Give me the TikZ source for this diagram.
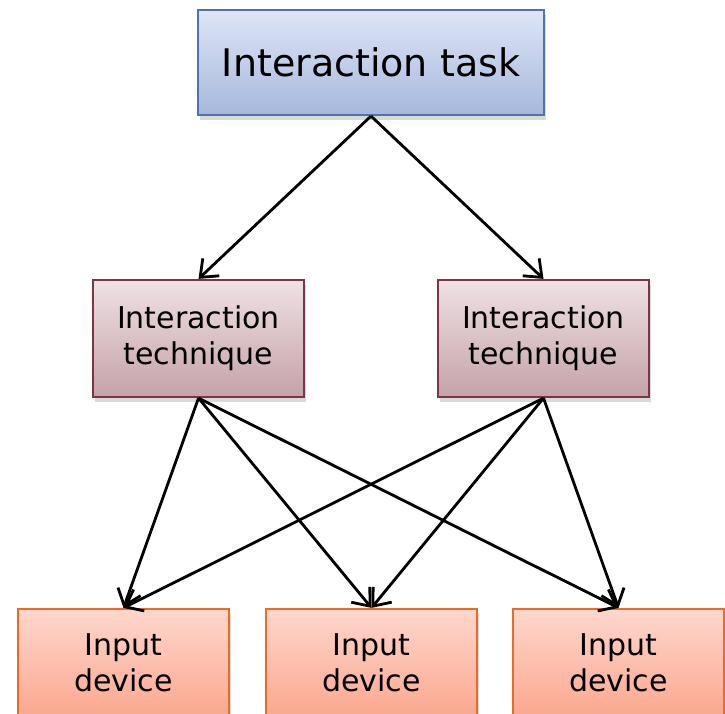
\documentclass[tikz,border=0pt]{standalone}
\usepackage{fontspec}
\setmainfont{DejaVu Sans}
\usetikzlibrary{arrows.meta,shadows}
\definecolor{taskTop}{HTML}{DEE6F6}
\definecolor{taskBot}{HTML}{A6B8DC}
\definecolor{taskLine}{HTML}{4F74AC}
\definecolor{techTop}{HTML}{EFE1E4}
\definecolor{techBot}{HTML}{C4A2A8}
\definecolor{techLine}{HTML}{7C3446}
\definecolor{devTop}{HTML}{FED7CD}
\definecolor{devBot}{HTML}{FBA78E}
\definecolor{devLine}{HTML}{EB6A25}
\tikzset{
  box/.style={rectangle, inner sep=0pt, align=center, line width=2.2pt,
    drop shadow={opacity=0.3, shadow xshift=2pt, shadow yshift=-5pt}},
  taskbox/.style={box, draw=taskLine, top color=taskTop, bottom color=taskBot,
    minimum width=346pt, minimum height=105pt, font=\fontsize{38}{44}\selectfont},
  techbox/.style={box, draw=techLine, top color=techTop, bottom color=techBot,
    minimum width=211pt, minimum height=117pt, font=\fontsize{30}{36}\selectfont},
  devbox/.style={box, draw=devLine, top color=devTop, bottom color=devBot,
    minimum width=211pt, minimum height=108pt, font=\fontsize{30}{36}\selectfont},
  link/.style={line width=2.8pt, -{Straight Barb[length=15pt,width=24pt]}}
}
\begin{document}
\begin{tikzpicture}[x=1pt,y=-1pt]
  \useasboundingbox (0,0) rectangle (725,714);
  \clip (0,0) rectangle (725,714);
  % task
  \node[taskbox] (task) at (371,62.5) {Interaction task};
  % techniques
  \node[techbox] (techA) at (198.5,338.5) {Interaction\\technique};
  \node[techbox] (techB) at (543.5,338.5) {Interaction\\technique};
  % devices
  \node[devbox] (devA) at (123.5,663) {Input\\device};
  \node[devbox] (devB) at (371.5,663) {Input\\device};
  \node[devbox] (devC) at (618.5,663) {Input\\device};
  % connectors
  \draw[link] (task.south) -- (techA.north);
  \draw[link] (task.south) -- (techB.north);
  \foreach \t in {techA,techB}
    \foreach \d in {devA,devB,devC}
      \draw[link] (\t.south) -- (\d.north);
\end{tikzpicture}
\end{document}
